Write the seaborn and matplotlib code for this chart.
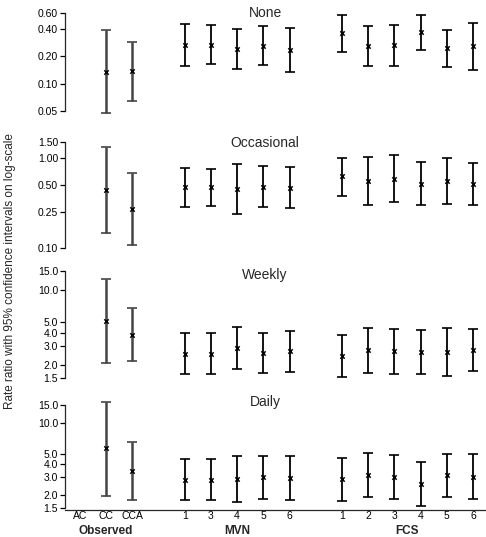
import numpy as np
import pandas as pd
import matplotlib
matplotlib.use("Agg")
import matplotlib.pyplot as plt
import matplotlib.transforms as mtransforms
from matplotlib.ticker import NullLocator, FixedLocator, FormatStrFormatter
import seaborn as sns

nan = np.nan

# method labels and their groups
groups = ["Observed", "MVN", "FCS"]
group_methods = {
    "Observed": ["AC", "CC", "CCA"],
    "MVN": ["1", "3", "4", "5", "6"],
    "FCS": ["1", "2", "3", "4", "5", "6"],
}

# rate ratios and 95% CI; AC has no estimate
none_est = [nan, 0.136, 0.137, 0.267, 0.269, 0.241, 0.262, 0.233, 0.361, 0.258, 0.267, 0.367, 0.247, 0.258]
none_lo = [nan, 0.048, 0.065, 0.156, 0.163, 0.144, 0.160, 0.133, 0.221, 0.156, 0.156, 0.235, 0.152, 0.143]
none_hi = [nan, 0.387, 0.285, 0.454, 0.439, 0.403, 0.428, 0.410, 0.575, 0.428, 0.439, 0.575, 0.393, 0.466]

occ_est = [nan, 0.442, 0.272, 0.472, 0.472, 0.453, 0.481, 0.469, 0.625, 0.551, 0.589, 0.519, 0.551, 0.514]
occ_lo = [nan, 0.149, 0.109, 0.286, 0.291, 0.240, 0.286, 0.277, 0.382, 0.304, 0.325, 0.299, 0.306, 0.299]
occ_hi = [nan, 1.31, 0.687, 0.780, 0.760, 0.863, 0.82, 0.80, 0.99, 1.02, 1.09, 0.90, 0.99, 0.885]

wk_est = [nan, 5.13, 3.80, 2.54, 2.54, 2.87, 2.56, 2.69, 2.42, 2.74, 2.71, 2.64, 2.62, 2.77]
wk_lo = [nan, 2.07, 2.17, 1.66, 1.66, 1.85, 1.67, 1.71, 1.53, 1.69, 1.66, 1.63, 1.57, 1.75]
wk_hi = [nan, 12.5, 6.73, 3.99, 3.99, 4.51, 3.96, 4.17, 3.83, 4.42, 4.35, 4.26, 4.42, 4.35]

dly_est = [nan, 5.71, 3.47, 2.82, 2.82, 2.88, 2.99, 2.95, 2.86, 3.15, 3.03, 2.56, 3.15, 3.03]
dly_lo = [nan, 1.97, 1.80, 1.80, 1.79, 1.71, 1.86, 1.79, 1.78, 1.92, 1.86, 1.57, 1.93, 1.83]
dly_hi = [nan, 16.1, 6.62, 4.47, 4.47, 4.81, 4.84, 4.84, 4.60, 5.11, 4.95, 4.18, 5.07, 5.03]

panels = ["None", "Occasional", "Weekly", "Daily"]
panel_data = {
    "None": (none_est, none_lo, none_hi),
    "Occasional": (occ_est, occ_lo, occ_hi),
    "Weekly": (wk_est, wk_lo, wk_hi),
    "Daily": (dly_est, dly_lo, dly_hi),
}
panel_ticks = {
    "None": [0.05, 0.10, 0.20, 0.40, 0.60],
    "Occasional": [0.10, 0.25, 0.50, 1.00, 1.50],
    "Weekly": [1.5, 2.0, 3.0, 4.0, 5.0, 10.0, 15.0],
    "Daily": [1.5, 2.0, 3.0, 4.0, 5.0, 10.0, 15.0],
}
panel_fmt = {"None": "%.2f", "Occasional": "%.2f", "Weekly": "%.1f", "Daily": "%.1f"}

# x positions: one slot per method, one empty slot between groups
rows = []
pos = 0
for g in groups:
    for m in group_methods[g]:
        rows.append((g, m, pos))
        pos += 1
    pos += 1
meth = pd.DataFrame(rows, columns=["group", "method", "x"])

frames = []
for p in panels:
    est, lo, hi = panel_data[p]
    d = meth.copy()
    d["panel"] = p
    d["est"], d["lo"], d["hi"] = est, lo, hi
    frames.append(d)
df = pd.concat(frames, ignore_index=True)

sns.set_style("ticks")
plt.rcParams["font.family"] = ["Liberation Sans", "DejaVu Sans"]

W, H = 486, 537
fig = plt.figure(figsize=(W / 100, H / 100), dpi=100)

# panel boxes in pixels (top, bottom)
boxes = [(13, 111), (142, 248.3), (271, 378.3), (405, 508.3)]
title_y = [13, 143, 275, 402]
left_px, right_px = 65, 486

axes = []
for i, p in enumerate(panels):
    top, bot = boxes[i]
    ax = fig.add_axes([left_px / W, 1 - bot / H, (right_px - left_px) / W, (bot - top) / H])
    axes.append(ax)
    d = df[df["panel"] == p].dropna()
    ax.set_yscale("log")
    for g, sub in d.groupby("group"):
        obs = g == "Observed"
        ax.errorbar(sub["x"], sub["est"],
                    yerr=[sub["est"] - sub["lo"], sub["hi"] - sub["est"]],
                    fmt="none", ecolor="#444444" if obs else "black",
                    elinewidth=1.8 if obs else 1.3, capsize=3.3, capthick=1.2,
                    clip_on=False, zorder=2)
    sns.scatterplot(data=d, x="x", y="est", marker="x", color="black", s=10,
                    linewidth=1.1, ax=ax, zorder=3, clip_on=False, legend=False)
    ticks = panel_ticks[p]
    ax.set_ylim(ticks[0], ticks[-1])
    ax.yaxis.set_major_locator(FixedLocator(ticks))
    ax.yaxis.set_minor_locator(NullLocator())
    ax.yaxis.set_major_formatter(FormatStrFormatter(panel_fmt[p]))
    ax.set_xlim(-0.57, meth["x"].max() + 0.5)
    ax.set_xlabel("")
    ax.set_ylabel("")
    ax.tick_params(axis="y", length=3.5, width=0.9, labelsize=7.5, pad=1.5, colors="black")
    for s in ["top", "right"]:
        ax.spines[s].set_visible(False)
    ax.spines["left"].set_linewidth(0.9)
    ax.patch.set_alpha(0)
    fig.text(265 / W, 1 - title_y[i] / H, p, ha="center", va="center", fontsize=10)
    if i < 3:
        ax.spines["bottom"].set_visible(False)
        ax.tick_params(axis="x", bottom=False, labelbottom=False)

ax = axes[-1]
ax.spines["bottom"].set_position(("outward", 1.5))
ax.spines["bottom"].set_linewidth(0.9)
ax.set_xticks(meth["x"])
ax.set_xticklabels(meth["method"])
ax.tick_params(axis="x", length=0, labelsize=7.5, pad=0.8, colors="black")

trans = mtransforms.blended_transform_factory(ax.transData, fig.transFigure)
for g in groups:
    cx = meth.loc[meth["group"] == g, "x"].mean()
    ax.text(cx, 1 - 536.6 / H, g, transform=trans, ha="center", va="bottom",
            fontsize=8.5, fontweight="bold")

fig.text(10 / W, 1 - 271 / H, "Rate ratio with 95% confidence intervals on log-scale",
         rotation=90, ha="center", va="center", fontsize=8.5)

fig.savefig("out.png", dpi=100)
